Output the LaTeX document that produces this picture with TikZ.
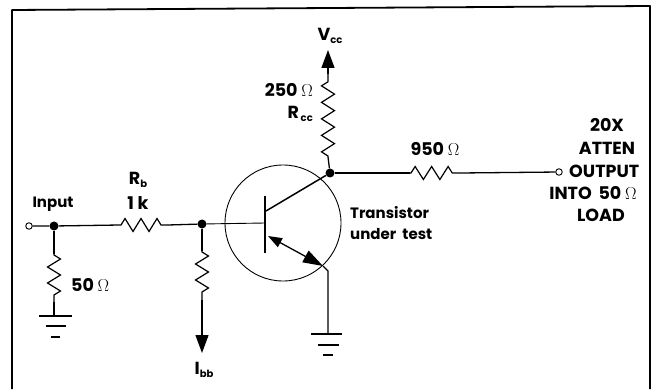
\documentclass[tikz,border=0pt]{standalone}
\usepackage{fontspec}
\setmainfont{Poppins}
\usetikzlibrary{arrows.meta,decorations.pathmorphing}
\tikzset{
  wire/.style={line width=1.3pt,black},
  thin wire/.style={line width=0.9pt,black},
  res/.style={line width=1.2pt,decorate,decoration={zigzag,segment length=#1,amplitude=6.5pt,pre length=1pt,post length=1pt}},
  res/.default=16pt,
  junction/.style={circle,fill=black,inner sep=0pt,minimum size=9pt},
  terminal/.style={circle,draw=black,fill=white,line width=0.9pt,inner sep=0pt,minimum size=6.5pt},
  lab/.style={inner sep=0pt,font=\fontsize{15}{18}\selectfont\bfseries,align=center},
  capslab/.style={inner sep=0pt,font=\fontsize{17.5}{20}\selectfont\bfseries,align=center},
  head/.style={-{Triangle[length=18pt,width=13pt]}},
  gnd/.style={line width=1.2pt},
}
\newcommand{\ohm}{{\normalfont\fontsize{17}{17}\selectfont$\Omega$}}
\newcommand{\lsub}[1]{{\fontsize{10}{10}\selectfont\raisebox{-2.5pt}{#1}}}
\begin{document}
\begin{tikzpicture}[x=1pt,y=-1pt]
\useasboundingbox (0,0) rectangle (653,390);
% frame
\draw[line width=1.8pt,line join=round] (12,389) -- (12,10) -- (650,6) -- (650,389);
% named points
\node[terminal] (in) at (29,226) {};
\node[junction] (j1) at (54,226) {};
\node[junction] (j2) at (202,224) {};
\node[junction] (j3) at (330,173) {};
\node[terminal] (out) at (559,172) {};
\coordinate (rb1) at (120,225); \coordinate (rb2) at (168,225);
\coordinate (r1) at (54,254); \coordinate (r2) at (54,302); \coordinate (g1) at (54,316);
\coordinate (ri1) at (202,251); \coordinate (ri2) at (202,300); \coordinate (ib) at (202,353);
\coordinate (rc1) at (328,157); \coordinate (rc2) at (328,74); \coordinate (vc) at (328,50);
\coordinate (r9a) at (410,173); \coordinate (r9b) at (460,173);
\node[circle,draw=black,line width=0.9pt,inner sep=0pt,minimum size=116pt] (q) at (283,223) {};
\coordinate (bb) at (265,223);
\coordinate (bc) at (266,211);
\coordinate (ea) at (268,236); \coordinate (eb) at (323,266); \coordinate (ec) at (328,271);
\coordinate (g2) at (328,334);
% wiring
\draw[wire] (in) -- (j1) -- (rb1);
\draw[res=16pt] (rb1) -- (rb2);
\draw[wire] (rb2) -- (j2);
\draw[wire] (j1) -- (r1);
\draw[res=16pt] (r1) -- (r2);
\draw[wire] (r2) -- (g1);
\draw[wire] (j2) -- (ri1);
\draw[res=16pt] (ri1) -- (ri2);
\draw[wire,head] (ri2) -- (ib);
\draw[thin wire] (j2) -- (bb);
\draw[line width=1.5pt] (265,196) -- (265,253);
\draw[line width=1.5pt] (bc) -- (j3);
\draw[wire] (j3) -- (rc1);
\draw[res=16.5pt] (rc1) -- (rc2);
\draw[wire,head] (rc2) -- (vc);
\draw[wire] (j3) -- (r9a);
\draw[res=16.5pt] (r9a) -- (r9b);
\draw[wire] (r9b) -- (out);
\draw[wire,{Triangle[length=14pt,width=10pt]}-{Triangle[length=20pt,width=13pt]}] (ea) -- (eb);
\draw[wire] (eb) -- (ec) -- (g2);
% grounds
\draw[gnd] (39,316) -- (72,316) (46,326) -- (66,326) (51,337) -- (60,337);
\draw[gnd] (311,334) -- (342,334) (318,345) -- (339,345) (323,355) -- (333,355);
% labels
\node[lab] (tin) at (53,204) {Input};
\node[capslab] (trb) at (138,180) {R\lsub{b}};
\node[capslab] (t1k) at (138,203) {1 k};
\node[capslab,anchor=west] (t50) at (71,285) {50 \ohm};
\node[capslab] (tib) at (204,370) {I\lsub{bb}};
\node[capslab] (tvc) at (330,36) {V\lsub{cc}};
\node[capslab,anchor=east] (t250) at (313,90) {250 \ohm};
\node[capslab,anchor=east] (trc) at (313,114) {R\lsub{\,cc}};
\node[capslab] (t950) at (435,149) {950 \ohm};
\node[lab,anchor=west] (ttr) at (350,213) {Transistor};
\node[lab,anchor=west] (tun) at (350,234) {under\hspace{3pt} test};
\node[capslab] (t20) at (607,125) {20X};
\node[capslab] (tat) at (607,148) {ATTEN};
\node[capslab,anchor=west] (tou) at (569,171) {OUTPUT};
\node[capslab] (tin2) at (593,193) {INTO\hspace{3pt} 50 \ohm};
\node[capslab] (tlo) at (601,215) {LOAD};
\end{tikzpicture}
\end{document}
